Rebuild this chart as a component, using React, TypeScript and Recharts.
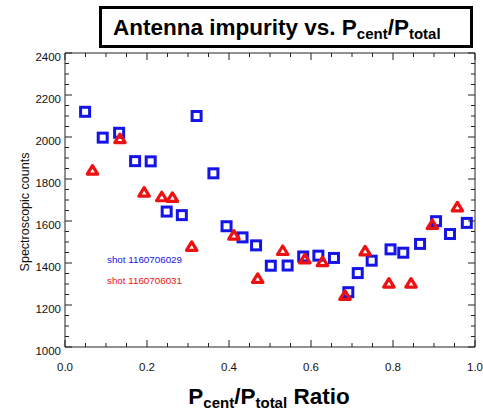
import React from "react";
import { ScatterChart, Scatter, XAxis, YAxis } from "recharts";

// Shot 1160706029 (blue squares): [Pcent/Ptotal ratio, spectroscopic counts]
const shot029X = [0.049, 0.092, 0.132, 0.171, 0.209, 0.248, 0.285, 0.321, 0.362, 0.394, 0.433, 0.466, 0.502, 0.543, 0.581, 0.618, 0.656, 0.691, 0.714, 0.748, 0.794, 0.825, 0.866, 0.905, 0.939, 0.98];
const shot029Y = [2120, 1997, 2020, 1885, 1884, 1645, 1628, 2100, 1827, 1575, 1522, 1484, 1387, 1388, 1431, 1435, 1424, 1261, 1352, 1411, 1465, 1449, 1491, 1599, 1538, 1591];

// Shot 1160706031 (red triangles)
const shot031X = [0.067, 0.134, 0.193, 0.236, 0.262, 0.309, 0.412, 0.47, 0.531, 0.585, 0.628, 0.683, 0.732, 0.79, 0.844, 0.896, 0.957];
const shot031Y = [1842, 1992, 1737, 1715, 1712, 1479, 1532, 1326, 1459, 1419, 1406, 1245, 1457, 1304, 1304, 1583, 1667];

const xMajorTicks = [0.0, 0.2, 0.4, 0.6, 0.8, 1.0];
const yMajorTicks = [1000, 1200, 1400, 1600, 1800, 2000, 2200, 2400];
const X_MINOR_PER_MAJOR = 4;
const Y_MINOR_PER_MAJOR = 4;

const shot029Label = "shot 1160706029";
const shot031Label = "shot 1160706031";

const BLUE = "#1414e6";
const RED = "#ee1111";
const AXIS = "#222";
const FONT = "'Liberation Sans', Arial, Helvetica, sans-serif";

function withMinors(majors: number[], per: number): number[] {
  const out: number[] = [];
  for (let i = 0; i < majors.length; i++) {
    out.push(majors[i]);
    if (i < majors.length - 1) {
      const step = (majors[i + 1] - majors[i]) / per;
      for (let k = 1; k < per; k++) out.push(+(majors[i] + step * k).toFixed(6));
    }
  }
  return out;
}

const xTicks = withMinors(xMajorTicks, X_MINOR_PER_MAJOR);
const yTicks = withMinors(yMajorTicks, Y_MINOR_PER_MAJOR);

const isMajor = (v: number, majors: number[]) => majors.some((m) => Math.abs(m - v) < 1e-6);

const data029 = shot029X.map((x, i) => ({ x, y: shot029Y[i] }));
const data031 = shot031X.map((x, i) => ({ x, y: shot031Y[i] }));

const MAJ = 7;
const MIN = 4;

const BottomTick = (p: any) => {
  const v = p.payload.value;
  const major = isMajor(v, xMajorTicks);
  return (
    <g>
      <line x1={p.x} x2={p.x} y1={p.y} y2={p.y - (major ? MAJ : MIN)} stroke={AXIS} strokeWidth={1} />
      {major && (
        <text x={p.x} y={p.y + 24} textAnchor="middle" fontSize={11.5} fontFamily={FONT} fill="#111">
          {v.toFixed(1)}
        </text>
      )}
    </g>
  );
};
const TopTick = (p: any) => {
  const v = p.payload.value;
  const major = isMajor(v, xMajorTicks);
  return <line x1={p.x} x2={p.x} y1={p.y} y2={p.y + (major ? MAJ : MIN)} stroke={AXIS} strokeWidth={1} />;
};
const LeftTick = (p: any) => {
  const v = p.payload.value;
  const major = isMajor(v, yMajorTicks);
  return (
    <g>
      <line x1={p.x} x2={p.x + (major ? MAJ : MIN)} y1={p.y} y2={p.y} stroke={AXIS} strokeWidth={1} />
      {major && (
        <text x={p.x - 4} y={p.y + 8} textAnchor="end" fontSize={11.5} fontFamily={FONT} fill="#111">
          {v}
        </text>
      )}
    </g>
  );
};
const RightTick = (p: any) => {
  const v = p.payload.value;
  const major = isMajor(v, yMajorTicks);
  return <line x1={p.x} x2={p.x - (major ? MAJ : MIN)} y1={p.y} y2={p.y} stroke={AXIS} strokeWidth={1} />;
};

const Square = (p: any) => {
  const s = 9;
  return <rect x={p.cx - s / 2} y={p.cy - s / 2} width={s} height={s} fill="none" stroke={BLUE} strokeWidth={3} />;
};
const Triangle = (p: any) => {
  const { cx, cy } = p;
  const d = `M${cx},${cy - 4.6} L${cx + 5.2},${cy + 3.9} L${cx - 5.2},${cy + 3.9} Z`;
  return <path d={d} fill="none" stroke={RED} strokeWidth={3.2} strokeLinejoin="round" />;
};

const subStyle: React.CSSProperties = { fontSize: 15, position: "relative", top: 4 };

export default function App() {
  return (
    <div style={{ position: "absolute", left: 0, top: 0, width: 483, height: 410, background: "#fff", fontFamily: FONT }}>
      <ScatterChart width={483} height={410} margin={{ top: 52, right: 7, bottom: 62, left: 64 }}>
        <XAxis
          xAxisId="b"
          type="number"
          dataKey="x"
          domain={[0, 1]}
          ticks={xTicks}
          interval={0}
          height={1}
          tickSize={0}
          tickMargin={0}
          tickLine={false}
          axisLine={{ stroke: AXIS }}
          tick={BottomTick}
          allowDataOverflow
        />
        <XAxis
          xAxisId="t"
          orientation="top"
          type="number"
          dataKey="x"
          domain={[0, 1]}
          ticks={xTicks}
          interval={0}
          height={1}
          tickSize={0}
          tickMargin={0}
          tickLine={false}
          axisLine={{ stroke: AXIS }}
          tick={TopTick}
          allowDataOverflow
        />
        <YAxis
          yAxisId="l"
          type="number"
          dataKey="y"
          domain={[1000, 2400]}
          ticks={yTicks}
          interval={0}
          width={1}
          tickSize={0}
          tickMargin={0}
          tickLine={false}
          axisLine={{ stroke: AXIS }}
          tick={LeftTick}
          allowDataOverflow
        />
        <YAxis
          yAxisId="r"
          orientation="right"
          type="number"
          dataKey="y"
          domain={[1000, 2400]}
          ticks={yTicks}
          interval={0}
          width={1}
          tickSize={0}
          tickMargin={0}
          tickLine={false}
          axisLine={{ stroke: AXIS }}
          tick={RightTick}
          allowDataOverflow
        />
        <Scatter data={data029} xAxisId="b" yAxisId="l" shape={Square} isAnimationActive={false} />
        <Scatter data={data031} xAxisId="b" yAxisId="l" shape={Triangle} isAnimationActive={false} />
      </ScatterChart>

      {/* Title box */}
      <div
        style={{
          position: "absolute",
          left: 99,
          top: 6,
          width: 374,
          height: 42,
          boxSizing: "border-box",
          border: "3px solid #000",
          fontWeight: "bold",
          fontSize: 22.5,
          lineHeight: "1",
          paddingLeft: 11,
          paddingTop: 8,
          whiteSpace: "nowrap",
          color: "#000",
        }}
      >
        Antenna impurity vs. P<span style={subStyle}>cent</span>/P<span style={subStyle}>total</span>
      </div>

      {/* Y axis title */}
      <div
        style={{
          position: "absolute",
          left: 25,
          top: 212,
          transform: "translate(-50%, -50%) rotate(-90deg)",
          fontSize: 12.5,
          whiteSpace: "nowrap",
          color: "#111",
        }}
      >
        Spectroscopic counts
      </div>

      {/* X axis title */}
      <div
        style={{
          position: "absolute",
          left: 269,
          top: 386,
          transform: "translateX(-50%)",
          fontWeight: "bold",
          fontSize: 22.5,
          lineHeight: "1",
          whiteSpace: "nowrap",
          color: "#000",
        }}
      >
        P<span style={subStyle}>cent</span>/P<span style={subStyle}>total</span> Ratio
      </div>

      {/* In-plot labels */}
      <div style={{ position: "absolute", left: 107, top: 254, fontSize: 9.8, color: BLUE, whiteSpace: "nowrap" }}>
        {shot029Label}
      </div>
      <div style={{ position: "absolute", left: 107, top: 275, fontSize: 9.8, color: RED, whiteSpace: "nowrap" }}>
        {shot031Label}
      </div>
    </div>
  );
}
